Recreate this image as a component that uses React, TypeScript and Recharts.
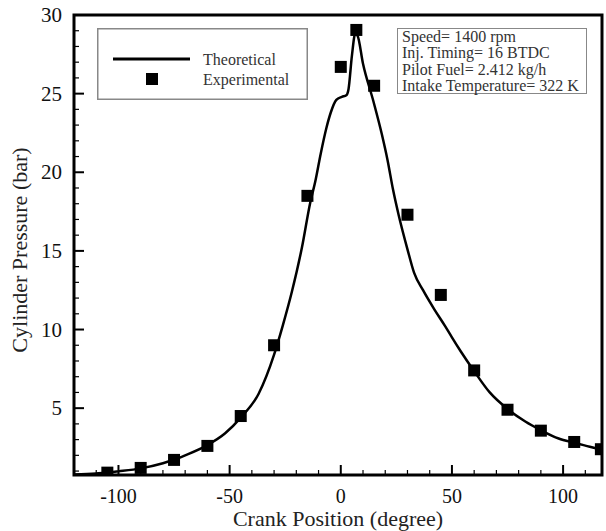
import { ComposedChart, Label, Legend, Line, ReferenceArea, Scatter, XAxis, YAxis } from 'recharts'

const FONT = '"Liberation Serif", "Times New Roman", serif'

// simulated pressure trace (crank angle in degrees, pressure in bar)
const theoryAngle = [
  -120, -110, -105, -100, -90, -80, -75, -70, -60, -52, -45, -37, -30, -26, -22, -17.5, -13.7, -11.5, -9, -6.5, -4.5, -2,
  0.5, 2.5, 3.5, 5, 6.5, 7.5, 10, 14.7, 18.5, 21, 23.5, 26, 30, 33, 37, 42, 47, 50, 54, 60, 67, 75, 83, 90, 98, 105, 112,
  117.5,
]
const theoryPressure = [
  0.78, 0.85, 0.9, 0.98, 1.17, 1.5, 1.72, 2.0, 2.65, 3.4, 4.4, 5.9, 8.4, 10.3, 12.4, 15.2, 18.1, 19.4, 21.2, 22.8, 23.8,
  24.6, 24.8, 24.9, 25.3, 27.4, 28.8, 28.7, 26.9, 24.5, 22.4, 20.8, 18.9, 17.3, 15.1, 13.6, 12.5, 11.3, 10.2, 9.5, 8.6,
  7.35, 6.0, 4.95, 4.15, 3.6, 3.07, 2.8, 2.55, 2.35,
]

// measured points
const expAngle = [-105, -90, -75, -60, -45, -30, -15, 0, 7, 15, 30, 45, 60, 75, 90, 105, 117]
const expPressure = [0.9, 1.2, 1.71, 2.6, 4.5, 9.0, 18.5, 26.7, 29.05, 25.5, 17.3, 12.2, 7.4, 4.9, 3.57, 2.85, 2.39]

const xTicks = [-110, -100, -90, -80, -70, -60, -50, -40, -30, -20, -10, 0, 10, 20, 30, 40, 50, 60, 70, 80, 90, 100, 110]
const yTicks = [1, 2, 3, 4, 5, 6, 7, 8, 9, 10, 11, 12, 13, 14, 15, 16, 17, 18, 19, 20, 21, 22, 23, 24, 25, 26, 27, 28, 29, 30]

const infoLines = ['Speed= 1400 rpm', 'Inj. Timing= 16 BTDC', 'Pilot Fuel= 2.412 kg/h', 'Intake Temperature= 322 K']

const theory = theoryAngle.map((angle, i) => ({ angle, pressure: theoryPressure[i] }))
const experiment = expAngle.map((angle, i) => ({ angle, pressure: expPressure[i] }))

function XTick(props: any) {
  const { x, y, payload } = props
  const major = payload.value % 50 === 0
  return (
    <g>
      <line x1={x} x2={x} y1={y} y2={y - (major ? 10 : 5)} stroke="#000" strokeWidth={major ? 2 : 1.2} />
      {major && (
        <text x={x} y={y + 21} textAnchor="middle" dominantBaseline="central" fontFamily={FONT} fontSize={20} fill="#111">
          {payload.value}
        </text>
      )}
    </g>
  )
}

function YTick(props: any) {
  const { x, y, payload } = props
  const major = payload.value % 5 === 0
  return (
    <g>
      <line x1={x} x2={x + (major ? 10 : 5)} y1={y} y2={y} stroke="#000" strokeWidth={major ? 2 : 1.2} />
      {major && (
        <text x={x - 12} y={y} textAnchor="end" dominantBaseline="central" fontFamily={FONT} fontSize={21} fill="#111">
          {payload.value}
        </text>
      )}
    </g>
  )
}

function SquareDot(props: any) {
  const { cx, cy } = props
  return <rect x={cx - 6} y={cy - 6} width={12} height={12} fill="#000" />
}

function LegendBox(props: any) {
  // line entry on top, markers below
  const items = [...(props.payload || [])].sort((a: any, b: any) => (a.type === 'line' ? -1 : 0) - (b.type === 'line' ? -1 : 0))
  return (
    <svg width={211} height={72} style={{ display: 'block' }}>
      <rect x={0.75} y={0.75} width={209.5} height={70.5} fill="#fff" stroke="#888" strokeWidth={1.5} />
      {items.map((entry: any, i: number) => {
        const cy = 31 + i * 20
        return (
          <g key={entry.value}>
            {entry.type === 'line' ? (
              <line x1={16} x2={93} y1={cy} y2={cy} stroke="#000" strokeWidth={3} />
            ) : (
              <rect x={49} y={cy - 6} width={12} height={12} fill="#000" />
            )}
            <text x={106} y={cy} dominantBaseline="central" fontFamily={FONT} fontSize={16} fill="#333">
              {entry.value}
            </text>
          </g>
        )
      })}
    </svg>
  )
}

export default function App() {
  return (
    <div style={{ position: 'absolute', left: 0, top: 0, width: 606, height: 531, background: '#fff' }}>
      <ComposedChart width={606} height={531} margin={{ top: 15, right: 4, bottom: 0, left: 0 }}>
        <XAxis
          dataKey="angle"
          type="number"
          domain={[-120, 117.5]}
          ticks={xTicks}
          interval={0}
          tick={<XTick />}
          tickLine={false}
          tickSize={0}
          tickMargin={0}
          axisLine={false}
          allowDataOverflow
          height={56}
        >
          <Label
            content={({ viewBox }: any) => (
              <text
                x={viewBox.x + viewBox.width / 2}
                y={viewBox.y + 43}
                textAnchor="middle"
                dominantBaseline="central"
                fontFamily={FONT}
                fontSize={22}
                fill="#222"
              >
                Crank Position (degree)
              </text>
            )}
          />
        </XAxis>
        <YAxis
          dataKey="pressure"
          type="number"
          domain={[0.75, 30]}
          ticks={yTicks}
          interval={0}
          tick={<YTick />}
          tickLine={false}
          tickSize={0}
          tickMargin={0}
          axisLine={false}
          allowDataOverflow
          width={74}
        >
          <Label
            content={({ viewBox }: any) => (
              <text
                x={19}
                y={viewBox.y + viewBox.height / 2 + 5}
                transform={`rotate(-90, 19, ${viewBox.y + viewBox.height / 2 + 5})`}
                textAnchor="middle"
                dominantBaseline="central"
                fontFamily={FONT}
                fontSize={22}
                fill="#222"
              >
                Cylinder Pressure (bar)
              </text>
            )}
          />
        </YAxis>
        <Legend
          content={<LegendBox />}
          layout="horizontal"
          verticalAlign="middle"
          align="center"
          wrapperStyle={{ left: 97, top: 28, width: 211, height: 72 }}
        />
        <Line
          data={theory}
          dataKey="pressure"
          name="Theoretical"
          type="monotone"
          stroke="#000"
          strokeWidth={2.5}
          dot={false}
          legendType="line"
          isAnimationActive={false}
        />
        <Scatter
          data={experiment}
          dataKey="pressure"
          name="Experimental"
          shape={<SquareDot />}
          legendType="square"
          isAnimationActive={false}
        />
        <ReferenceArea
          x1={-120}
          x2={117.5}
          y1={0.75}
          y2={30}
          fill="none"
          stroke="#000"
          strokeWidth={3}
          ifOverflow="visible"
        />
      </ComposedChart>
      <div
        style={{
          position: 'absolute',
          left: 397,
          top: 28,
          width: 190,
          height: 66,
          boxSizing: 'border-box',
          border: '1.5px solid #888',
          padding: '0 0 0 4px',
          fontFamily: FONT,
          fontSize: 16,
          lineHeight: '16.3px',
          color: '#333',
          background: '#fff',
          whiteSpace: 'nowrap',
        }}
      >
        {infoLines.map((t) => (
          <div key={t}>{t}</div>
        ))}
      </div>
    </div>
  )
}
